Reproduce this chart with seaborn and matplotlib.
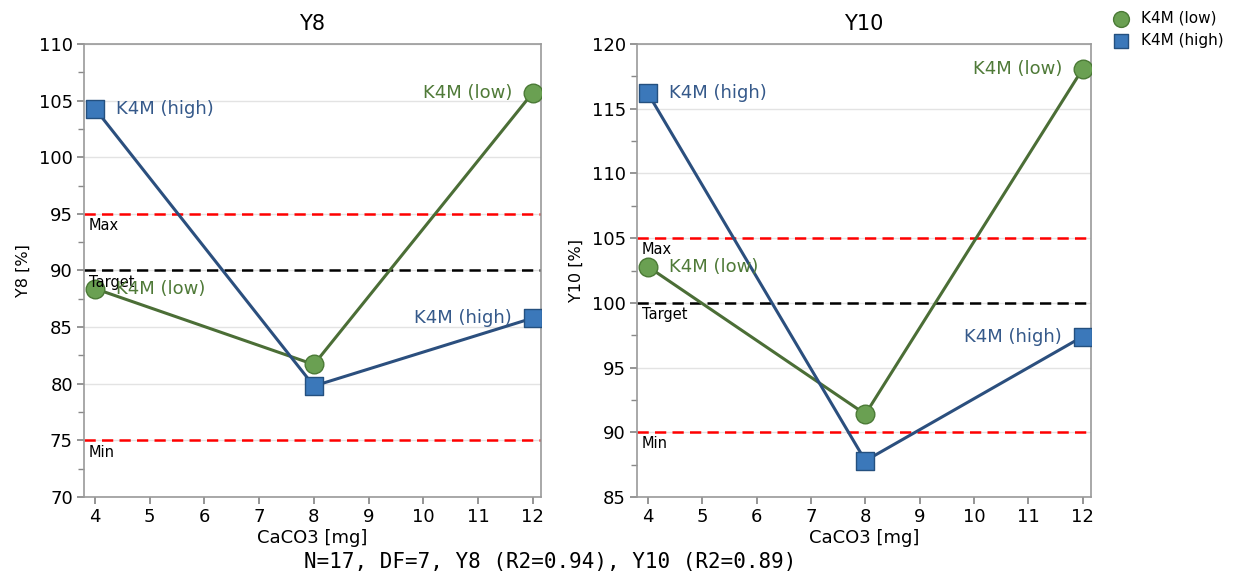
import matplotlib
matplotlib.use("Agg")
import matplotlib.pyplot as plt
import matplotlib.transforms as mtransforms
import seaborn as sns
import pandas as pd

# ---- data ----
caco3 = [4, 8, 12]
series_names = ["K4M (low)", "K4M (high)"]
y8_low = [88.4, 81.7, 105.7]
y8_high = [104.3, 79.8, 85.8]
y10_low = [102.8, 91.4, 118.1]
y10_high = [116.2, 87.8, 97.4]

y8_limits = {"Max": 95, "Target": 90, "Min": 75}
y10_limits = {"Max": 105, "Target": 100, "Min": 90}
footer = "N=17, DF=7, Y8 (R2=0.94), Y10 (R2=0.89)"

sns.set_theme(style="white")
plt.rcParams["font.family"] = ["DejaVu Sans"]
plt.rcParams["text.color"] = "black"
plt.rcParams["axes.labelcolor"] = "black"
plt.rcParams["xtick.labelcolor"] = "black"
plt.rcParams["ytick.labelcolor"] = "black"

line_colors = {"K4M (low)": "#4b6e36", "K4M (high)": "#2b4f7e"}
face_colors = {"K4M (low)": "#6aa052", "K4M (high)": "#3b78ba"}
edge_colors = {"K4M (low)": "#4b7a36", "K4M (high)": "#24507f"}
text_colors = {"K4M (low)": "#4f7a38", "K4M (high)": "#35598a"}
markers = {"K4M (low)": "o", "K4M (high)": "s"}
sizes = {"K4M (low)": 180, "K4M (high)": 150}

fig = plt.figure(figsize=(12.48, 5.71), dpi=100)
ax1 = fig.add_axes([84 / 1248, 74 / 571, 457 / 1248, 453 / 571])
ax2 = fig.add_axes([637 / 1248, 74 / 571, 454 / 1248, 453 / 571])


def draw(ax, low, high, limits, title, ylabel, ylim, yticks):
    df = pd.DataFrame({
        "CaCO3": caco3 * 2,
        "val": low + high,
        "series": [series_names[0]] * 3 + [series_names[1]] * 3,
    })
    # reference lines
    dash = (0, (4.5, 2.5))
    ax.axhline(limits["Max"], color="#ff0000", ls=dash, lw=1.8, zorder=1)
    ax.axhline(limits["Min"], color="#ff0000", ls=dash, lw=1.8, zorder=1)
    ax.axhline(limits["Target"], color="#000000", ls=dash, lw=1.8, zorder=1)
    trans = mtransforms.blended_transform_factory(ax.transAxes, ax.transData)
    for name, val in limits.items():
        ax.annotate(name, xy=(0.005, val), xycoords=trans, xytext=(2, -3),
                    textcoords="offset points", ha="left", va="top",
                    fontsize=10.5, color="black", zorder=5)
    for s in series_names:
        sub = df[df["series"] == s]
        sns.lineplot(data=sub, x="CaCO3", y="val", ax=ax, color=line_colors[s],
                     lw=2.2, legend=False, zorder=3)
        sns.scatterplot(data=sub, x="CaCO3", y="val", ax=ax, marker=markers[s],
                        s=sizes[s], color=face_colors[s], edgecolor=edge_colors[s],
                        linewidth=1.0, zorder=4, legend=False, label=s)
        v = sub["val"].tolist()
        ax.annotate(s, xy=(caco3[0], v[0]), xytext=(15, 0), textcoords="offset points",
                    ha="left", va="center", fontsize=13, color=text_colors[s], zorder=5)
        ax.annotate(s, xy=(caco3[-1], v[-1]), xytext=(-15, 0), textcoords="offset points",
                    ha="right", va="center", fontsize=13, color=text_colors[s], zorder=5)
    ax.set_xlim(3.8, 12.15)
    ax.set_ylim(*ylim)
    ax.set_yticks(yticks)
    ax.set_yticks([t + (yticks[1] - yticks[0]) / 2 for t in yticks[:-1]], minor=True)
    ax.set_xticks(range(4, 13))
    ax.grid(axis="y", which="major", color="#e3e3e3", lw=1.0, zorder=0)
    ax.set_axisbelow(True)
    ax.tick_params(axis="both", which="major", direction="out", length=5,
                   color="#888888", labelsize=13, left=True, bottom=True, pad=3,
                   labelcolor="black")
    ax.tick_params(axis="y", which="minor", direction="out", length=4,
                   color="#888888", left=True)
    for sp in ax.spines.values():
        sp.set_color("#999999")
        sp.set_linewidth(1.2)
    ax.set_title(title, fontsize=15, pad=10, color="black")
    ax.set_xlabel("CaCO3 [mg]", fontsize=13, labelpad=2, color="black")
    ax.set_ylabel(ylabel, fontsize=11.5, labelpad=6, color="black")


draw(ax1, y8_low, y8_high, y8_limits, "Y8", "Y8 [%]", (70, 110), list(range(70, 111, 5)))
draw(ax2, y10_low, y10_high, y10_limits, "Y10", "Y10 [%]", (85, 120), list(range(85, 121, 5)))

handles, labels = ax1.get_legend_handles_labels()
fig.legend(handles, labels, loc="upper left", bbox_to_anchor=(1092 / 1248, 1.005),
           frameon=False, fontsize=11, handletextpad=0.3, labelspacing=0.45,
           markerscale=0.85)

fig.text(550 / 1248, 9 / 571, footer, ha="center", va="center",
         family=["DejaVu Sans Mono"], fontsize=15, color="black")

fig.savefig("out.png", dpi=100)
